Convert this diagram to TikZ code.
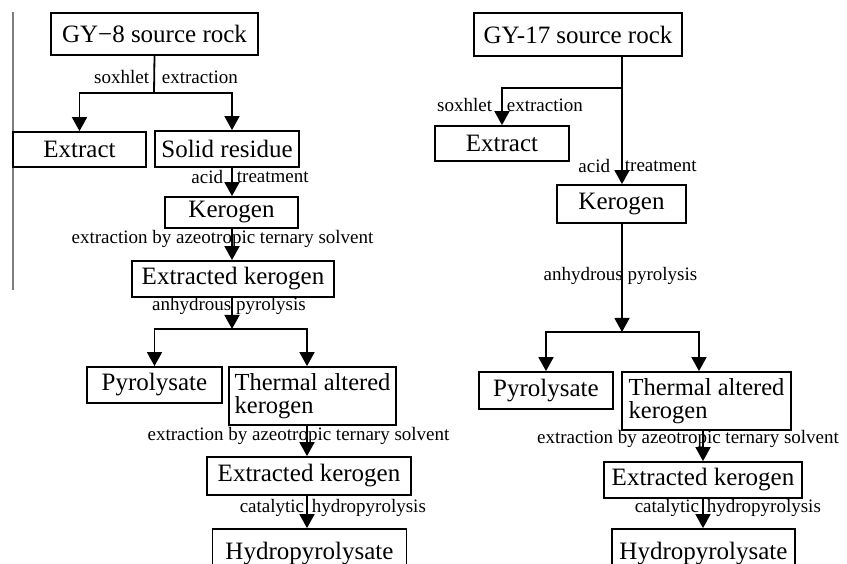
\documentclass[tikz,border=0pt]{standalone}
\usepackage{fontspec}
\setmainfont{Liberation Serif}
\usetikzlibrary{arrows.meta}
\definecolor{cgrey}{HTML}{7F7F7F}
\tikzset{
  every picture/.style={line width=1.8pt},
  box/.style={draw, inner sep=0pt, font=\fontsize{25}{24}\selectfont},
  twoline/.style={align=left, font=\fontsize{24.5}{23}\selectfont},
  arrow/.style={-{Triangle[length=14pt, width=15pt]}},
  note/.style={inner sep=0pt, font=\fontsize{19}{19}\selectfont},
}
\begin{document}
\begin{tikzpicture}[x=1pt, y=-1pt]
  \useasboundingbox (0,0) rectangle (847,564);
  \draw[cgrey, line width=2pt] (13,12) -- (13,290);
  % GY-8 branch
  \node[box, minimum width=207, minimum height=42] (gy8) at (154.5,34) {GY−8 source rock};
  \node[box, minimum width=133, minimum height=35] (ext8) at (79.5,149.5) {Extract};
  \node[box, minimum width=144, minimum height=36] (sol8) at (227,149) {Solid residue};
  \node[box, minimum width=133, minimum height=31] (ker8) at (231.5,212.5) {Kerogen};
  \node[box, minimum width=202, minimum height=36] (ek8) at (233,279) {Extracted kerogen};
  \node[box, minimum width=135, minimum height=36] (pyr8) at (154.5,385) {Pyrolysate};
  \node[box, twoline, minimum width=167, minimum height=58] (tak8) at (312.5,396) {Thermal altered\\kerogen};
  \node[box, minimum width=204, minimum height=38] (ekb8) at (309,476) {Extracted kerogen};
  \node[box, minimum width=194, minimum height=50] (hyd8) at (309.5,554) {Hydropyrolysate};
  \coordinate (s8) at (154,93);
  \coordinate (b8) at (232,329);
  \coordinate (t8) at (307,329);
  \draw (gy8.south) -- (s8);
  \draw[arrow] (s8) -| (ext8.north);
  \draw[arrow] (s8) -| (sol8.north -| b8);
  \draw[arrow] (sol8.south -| b8) -- (ker8.north -| b8);
  \draw[arrow] (ker8.south -| b8) -- (ek8.north -| b8);
  \draw[arrow] (ek8.south -| b8) -- (b8);
  \draw[arrow] (b8) -| (pyr8.north);
  \draw[arrow] (b8) -- (t8) -- (tak8.north -| t8);
  \draw[arrow] (tak8.south -| t8) -- (ekb8.north -| t8);
  \draw[arrow] (ekb8.south -| t8) -- (hyd8.north -| t8);
  \node[note, anchor=east] (sx8) at (150,77) {soxhlet};
  \node[note, anchor=west] (se8) at (161,77) {extraction};
  \node[note, anchor=east] (ac8) at (224,177) {acid};
  \node[note, anchor=west] (at8) at (236,177) {treatment};
  \node[note] (eb8) at (222.5,239) {extraction by azeotropic ternary solvent};
  \node[note] (an8) at (229,306) {anhydrous pyrolysis};
  \node[note] (ebb8) at (298.5,436) {extraction by azeotropic ternary solvent};
  \node[note, anchor=east] (ca8) at (305,508) {catalytic};
  \node[note, anchor=west] (hp8) at (311,508) {hydropyrolysis};
  % GY-17 branch
  \node[box, minimum width=208, minimum height=43] (gy17) at (578,34.5) {GY-17 source rock};
  \node[box, minimum width=134, minimum height=35] (ext17) at (502,143.5) {Extract};
  \node[box, minimum width=129, minimum height=38] (ker17) at (621.5,204) {Kerogen};
  \node[box, minimum width=134, minimum height=37] (pyr17) at (546,390.5) {Pyrolysate};
  \node[box, twoline, minimum width=169, minimum height=58] (tak17) at (706.5,401) {Thermal altered\\kerogen};
  \node[box, minimum width=198, minimum height=36] (ekb17) at (703,480) {Extracted kerogen};
  \node[box, minimum width=183, minimum height=50] (hyd17) at (703.5,554) {Hydropyrolysate};
  \coordinate (s17) at (622,88);
  \coordinate (b17) at (622,332);
  \coordinate (t17) at (699,332);
  \draw[arrow] (gy17.south -| s17) -- (ker17.north -| s17);
  \draw[arrow] (s17) -| (ext17.north);
  \draw[arrow] (ker17.south -| b17) -- (b17);
  \draw[arrow] (b17) -| (pyr17.north);
  \draw[arrow] (b17) -- (t17) -- (tak17.north -| t17);
  \draw[arrow] (tak17.south -| ekb17) -- (ekb17.north);
  \draw[arrow] (ekb17.south) -- (ekb17.south |- hyd17.north);
  \node[note, anchor=east] (sx17) at (493,105) {soxhlet};
  \node[note, anchor=west] (se17) at (506,105) {extraction};
  \node[note, anchor=east] (ac17) at (611,166) {acid};
  \node[note, anchor=west] (at17) at (624,166) {treatment};
  \node[note] (an17) at (620.5,276) {anhydrous pyrolysis};
  \node[note] (eb17) at (688,439) {extraction by azeotropic ternary solvent};
  \node[note, anchor=east] (ca17) at (700,508) {catalytic};
  \node[note, anchor=west] (hp17) at (706,508) {hydropyrolysis};
\end{tikzpicture}
\end{document}
